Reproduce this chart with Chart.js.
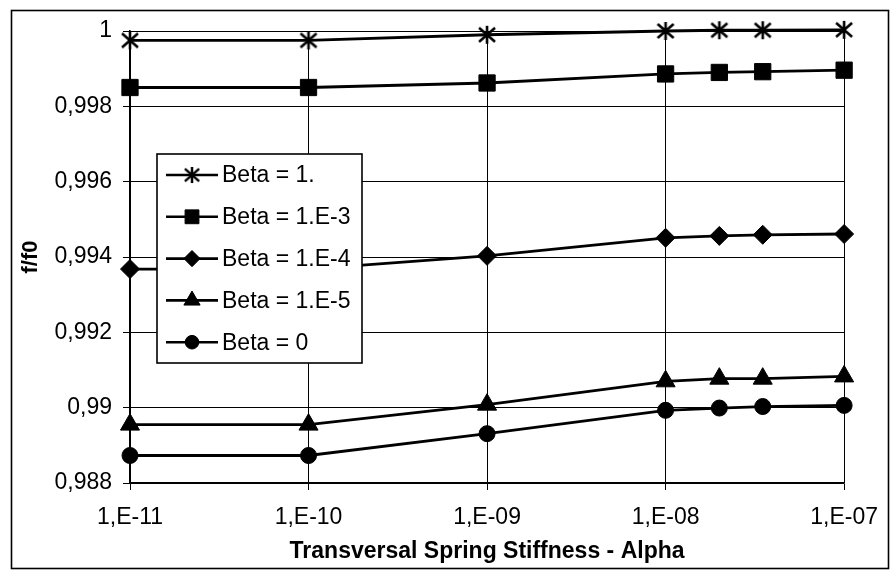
<!DOCTYPE html>
<html>
<head>
<meta charset="utf-8">
<script src="https://cdn.jsdelivr.net/npm/chart.js@4.4.1/dist/chart.umd.min.js"></script>
<style>
  html, body { margin: 0; padding: 0; background: #fff; }
  #wrap { position: absolute; left: 0; top: 0; width: 892px; height: 571px; }
</style>
</head>
<body>
<div id="wrap"><canvas id="chart" width="892" height="571"></canvas></div>
<script>
// x values (alpha) and one array of f/f0 per beta
const alphaValues = [1e-11, 1e-10, 1e-9, 1e-8, 2e-8, 3.5e-8, 1e-7]
const beta1 = [0.99975, 0.99975, 0.9999, 1.0, 1.00002, 1.00002, 1.00003]
const betaE3 = [0.9985, 0.9985, 0.99862, 0.99886, 0.9989, 0.99892, 0.99896]
const betaE4 = [0.99368, 0.99368, 0.99403, 0.99451, 0.99456, 0.99459, 0.99461]
const betaE5 = [0.98955, 0.98955, 0.99008, 0.9907, 0.99077, 0.99077, 0.99083]
const beta0 = [0.98873, 0.98873, 0.98931, 0.98993, 0.98999, 0.99003, 0.99006]

const seriesLabels = ['Beta = 1.', 'Beta = 1.E-3', 'Beta = 1.E-4', 'Beta = 1.E-5', 'Beta = 0']
const xTickValues = [1e-11, 1e-10, 1e-9, 1e-8, 1e-7]
const xTickLabels = ['1,E-11', '1,E-10', '1,E-09', '1,E-08', '1,E-07']

// asterisk marker (vertical bar + X) drawn once on a small canvas
const starImg = document.createElement('canvas')
starImg.width = 20
starImg.height = 20
{
  const c = starImg.getContext('2d')
  c.strokeStyle = '#000'
  c.lineWidth = 2.6
  c.beginPath()
  c.moveTo(10, 1); c.lineTo(10, 19)
  c.moveTo(2, 3); c.lineTo(18, 17)
  c.moveTo(2, 17); c.lineTo(18, 3)
  c.stroke()
}

const markers = [
  { pointStyle: starImg, radius: 10 },
  { pointStyle: 'rect', radius: 11.5 },
  { pointStyle: 'rectRot', radius: 9.5 },
  { pointStyle: 'triangle', radius: 11 },
  { pointStyle: 'circle', radius: 8 },
]

const toPoints = (arr) => arr.map((v, i) => ({ x: alphaValues[i], y: v }))

const datasets = [beta1, betaE3, betaE4, betaE5, beta0].map((arr, i) => ({
  label: seriesLabels[i],
  data: toPoints(arr),
  borderColor: '#000',
  backgroundColor: '#000',
  borderWidth: 2.8,
  pointStyle: markers[i].pointStyle,
  pointRadius: markers[i].radius,
  pointBorderWidth: 1,
  pointBackgroundColor: '#000',
  pointBorderColor: '#000',
  tension: 0,
  clip: false,
}))

// outer frame of the picture
const framePlugin = {
  id: 'frame',
  afterDraw(chart) {
    const ctx = chart.ctx
    ctx.save()
    ctx.strokeStyle = '#000'
    ctx.lineWidth = 1.6
    ctx.strokeRect(11.5, 10.5, 877, 558)
    ctx.restore()
  }
}

// boxed legend sitting inside the plot area, Excel style
const boxLegend = {
  id: 'boxLegend',
  afterDraw(chart) {
    const ctx = chart.ctx
    const area = chart.chartArea
    const left = area.left + 27
    const top = area.top + 123
    const w = 205
    const h = 209
    ctx.save()
    ctx.fillStyle = '#fff'
    ctx.fillRect(left, top, w, h)
    ctx.strokeStyle = '#000'
    ctx.lineWidth = 1.6
    ctx.strokeRect(left, top, w, h)
    ctx.font = '23px "Liberation Sans", Arial, sans-serif'
    ctx.textBaseline = 'middle'
    ctx.textAlign = 'left'
    seriesLabels.forEach((lab, i) => {
      const y = top + 21 + i * 41.8
      ctx.strokeStyle = '#000'
      ctx.lineWidth = 2.6
      ctx.beginPath()
      ctx.moveTo(left + 9, y)
      ctx.lineTo(left + 61, y)
      ctx.stroke()
      const m = markers[i]
      ctx.fillStyle = '#000'
      ctx.lineWidth = 1
      if (typeof m.pointStyle === 'string') {
        Chart.helpers.drawPoint(ctx, { pointStyle: m.pointStyle, radius: m.radius * 0.85, borderWidth: 1, rotation: 0 }, left + 35, y)
      } else {
        ctx.drawImage(m.pointStyle, left + 35 - 9, y - 9, 18, 18)
      }
      ctx.fillStyle = '#000'
      ctx.fillText(lab, left + 65, y + 1)
    })
    ctx.restore()
  }
}

new Chart(document.getElementById('chart'), {
  type: 'line',
  data: { datasets: datasets },
  options: {
    responsive: false,
    animation: false,
    events: [],
    layout: { padding: { left: 12, top: 31, right: 46, bottom: 4 } },
    plugins: {
      legend: { display: false },
      tooltip: { enabled: false },
    },
    scales: {
      x: {
        type: 'logarithmic',
        min: 1e-11,
        max: 1e-7,
        afterBuildTicks: (scale) => { scale.ticks = xTickValues.map(v => ({ value: v })) },
        afterFit: (scale) => { scale.height = 84 },
        grid: { color: '#000', lineWidth: 1, tickLength: 7 },
        border: { color: '#000', width: 1.6 },
        ticks: {
          color: '#000',
          padding: 14,
          maxRotation: 0,
          autoSkip: false,
          font: { family: '"Liberation Sans", Arial, sans-serif', size: 23 },
          callback: (v, i) => xTickLabels[i],
        },
        title: {
          display: true,
          text: 'Transversal Spring Stiffness - Alpha',
          color: '#000',
          font: { family: '"Liberation Sans", Arial, sans-serif', size: 23, weight: 'bold' },
          padding: { top: 0, bottom: 2 },
        },
      },
      y: {
        type: 'linear',
        min: 0.988,
        max: 1,
        afterFit: (scale) => { scale.width = 118 },
        grid: { color: '#000', lineWidth: 1, tickLength: 7 },
        border: { color: '#000', width: 1.6 },
        ticks: {
          stepSize: 0.002,
          color: '#000',
          padding: 11,
          font: { family: '"Liberation Sans", Arial, sans-serif', size: 23 },
          callback: (v) => String(Math.round(v * 1000) / 1000).replace('.', ','),
        },
        title: {
          display: true,
          text: 'f/f0',
          color: '#000',
          font: { family: '"Liberation Sans", Arial, sans-serif', size: 22, weight: 'bold' },
          padding: { top: 6, bottom: 0 },
        },
      },
    },
  },
  plugins: [framePlugin, boxLegend],
})
</script>
</body>
</html>
